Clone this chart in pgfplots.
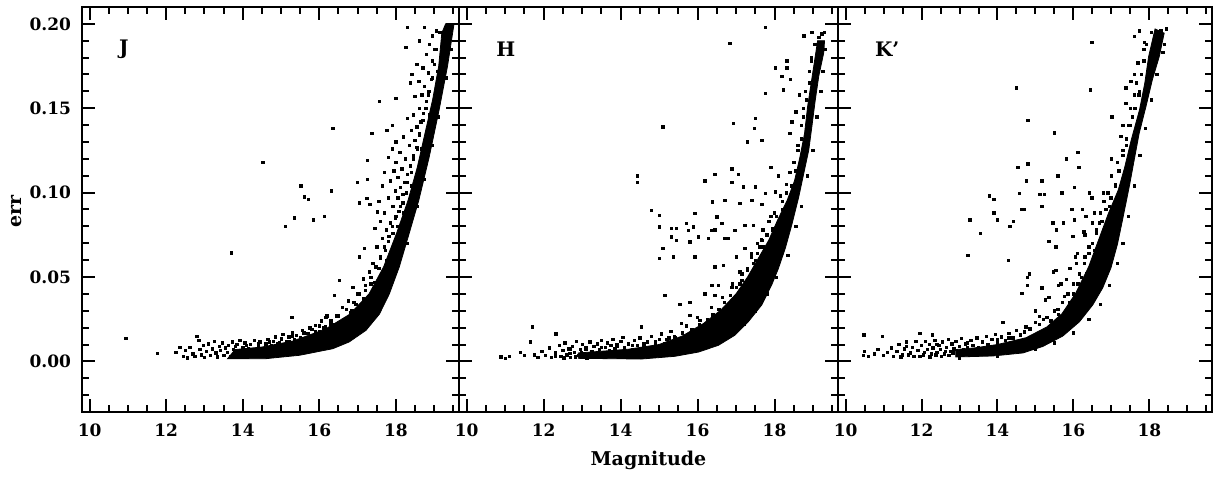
\documentclass[border=0pt]{standalone}
\usepackage{pgfplots}
\pgfplotsset{compat=1.18}
\usepackage{fontspec}
\setmainfont{DejaVu Serif}
\begin{document}
\begin{tikzpicture}
\useasboundingbox (0pt,0pt) rectangle (607pt,238.5pt);
\pgfplotsset{
 panel/.style={
  scale only axis, height=202.5pt,
  xmin=9.8, xmax=19.65, ymin=-0.03, ymax=0.21,
  xtick={10,12,14,16,18},
  minor xtick={10.5,11,11.5,12.5,13,13.5,14.5,15,15.5,16.5,17,17.5,18.5,19,19.5},
  ytick={0,0.05,0.1,0.15,0.2},
  minor ytick={-0.02,-0.01,0.01,0.02,0.03,0.04,0.06,0.07,0.08,0.09,0.11,0.12,0.13,0.14,0.16,0.17,0.18,0.19},
  tick align=inside, major tick length=6.5pt, minor tick length=3.5pt,
  every tick/.style={black, line width=1pt},
  axis line style={line width=1pt},
  /pgf/number format/assume math mode=true,
  tick label style={font=\bfseries\fontsize{8.5}{10}\selectfont},
  xticklabel style={yshift=-2.5pt},
  yticklabel style={xshift=-2pt, /pgf/number format/.cd, fixed, fixed zerofill, precision=2},
  label style={font=\bfseries\fontsize{9.5}{11}\selectfont},
  band/.style={fill=black, draw=black, line width=0.4pt, forget plot},
  pts/.style={only marks, mark=square*, mark size=0.6pt, black, mark options={line width=0.3pt}},
 },
}
% ---------------- J ----------------
\begin{axis}[panel, width=188.5pt, at={(41pt,32.5pt)}, anchor=south west,
  ylabel={err}, ylabel style={at={(rel axis cs:-0.174,0.494)}, anchor=center}]
\addplot[band] coordinates {
(13.6,0.0015) (14.6,0.0016) (15.48,0.0036) (16.35,0.0075) (16.78,0.0115) (17.22,0.0184)
(17.57,0.028) (17.83,0.040) (18.09,0.056) (18.35,0.076) (18.6,0.0955) (18.87,0.121)
(19.13,0.149) (19.35,0.175) (19.52,0.2)
(19.3,0.2) (19.2,0.1945) (19.12,0.175) (18.96,0.155) (18.76,0.135) (18.56,0.115)
(18.32,0.0955) (18.02,0.076) (17.68,0.056) (17.3,0.040) (16.8,0.028) (16.15,0.0190)
(15.3,0.0120) (14.5,0.0085) (13.8,0.0070)
} -- cycle;
\addplot[pts] coordinates {
(10.94,0.0138) (11.76,0.0049) (13.70,0.0643) (14.52,0.118) (15.11,0.080) (15.35,0.085)
(15.52,0.104) (15.61,0.0975) (15.72,0.096) (15.84,0.084) (16.13,0.086) (16.32,0.101) (16.35,0.138)
(12.25,0.0055) (12.35,0.0085) (12.45,0.0030) (12.5,0.0065) (12.55,0.0022) (12.62,0.0085)
(12.7,0.0045) (12.75,0.0030) (12.8,0.0150) (12.85,0.0125) (12.88,0.0070) (12.92,0.0040)
(12.97,0.0095) (13.0,0.0025) (13.05,0.0060) (13.1,0.0105) (13.15,0.0035) (13.2,0.0075)
(13.25,0.0120) (13.3,0.0050) (13.33,0.0028) (13.38,0.0090) (13.42,0.0065) (13.47,0.0110)
(13.5,0.0035) (13.55,0.0080) (13.6,0.0055) (13.63,0.0095) (13.68,0.0030) (13.72,0.0115)
(13.76,0.0070) (13.8,0.0045) (13.84,0.0100) (13.88,0.0060) (13.92,0.0125) (13.96,0.0035)
(14.0,0.0085) (14.05,0.0110) (14.1,0.0050) (14.15,0.0075) (14.2,0.0100) (14.25,0.0040)
(14.3,0.0125) (14.35,0.0065) (14.4,0.0090) (14.45,0.0115) (14.5,0.0050) (14.55,0.0075)
(14.6,0.0105) (14.65,0.0130) (14.7,0.0060) (14.75,0.0095) (14.8,0.0120) (14.85,0.0145)
(14.9,0.0085) (14.95,0.0110) (15.0,0.0135) (15.05,0.0160) (15.1,0.0095) (15.15,0.0120)
(15.2,0.0145) (15.25,0.0110) (15.3,0.0170) (15.35,0.0130) (15.4,0.0155) (15.5,0.0140)
(15.55,0.0185) (15.6,0.0125) (15.7,0.0165) (15.75,0.0200) (15.8,0.0150) (15.9,0.0215)
(16.0,0.0180) (16.05,0.0240) (16.15,0.0205) (16.2,0.0270) (16.3,0.0230) (16.5,0.0190)
(16.1,0.0200) (15.9,0.0180) (16.45,0.0270) (16.65,0.0250) (15.28,0.0260) (16.30,0.0220)
(16.17,0.0260) (16.82,0.0290) (16.60,0.0320) (16.95,0.0340) (16.75,0.0360) (16.39,0.0390)
(17.2,0.0420) (16.52,0.0480) (17.0,0.0400) (17.35,0.0460) (17.15,0.0490) (16.87,0.0440)
(17.30,0.0530) (17.55,0.0550) (17.40,0.0580) (17.60,0.0610) (17.04,0.0620) (17.72,0.0660)
(17.50,0.0680) (17.17,0.0670) (17.80,0.0710) (17.65,0.0730) (17.92,0.0760) (17.45,0.0790)
(17.75,0.0780) (18.05,0.0800) (17.60,0.0830) (17.85,0.0820) (17.98,0.0850) (17.70,0.0880)
(17.52,0.0886) (18.08,0.0890) (17.92,0.0920) (17.32,0.0930) (17.55,0.0950) (18.18,0.0940)
(17.80,0.0970) (18.05,0.0970) (17.04,0.0940) (17.24,0.0965) (17.0,0.1060) (18.28,0.1000)
(17.65,0.1040) (17.98,0.1010) (18.12,0.1030) (17.26,0.1080) (17.85,0.1070) (18.22,0.1060)
(18.05,0.1090) (17.70,0.1120) (18.30,0.1110) (17.95,0.1130) (18.15,0.1140) (18.38,0.1160)
(18.0,0.1180) (17.26,0.1190) (17.80,0.1210) (18.25,0.1200) (18.45,0.1220) (18.10,0.1240)
(17.90,0.1260) (18.56,0.1260) (18.35,0.1280) (18.0,0.1300) (18.50,0.1310) (18.20,0.1330)
(17.37,0.1350) (18.62,0.1340) (18.40,0.1370) (17.76,0.1370) (18.55,0.1390) (17.91,0.1400)
(18.65,0.1420) (18.30,0.1440) (18.45,0.1460) (18.72,0.1470) (18.62,0.1500) (17.57,0.1540)
(18.80,0.1540) (18.0,0.1560) (18.50,0.1570) (18.68,0.1580) (18.86,0.1600) (18.38,0.1650)
(18.75,0.1630) (18.60,0.1660) (18.92,0.1670) (18.42,0.1700) (18.85,0.1710) (18.70,0.1740)
(18.55,0.1760) (18.95,0.1780) (18.80,0.1820) (18.26,0.1860) (19.0,0.1850) (18.88,0.1880)
(18.62,0.1900) (19.05,0.1960) (18.95,0.1930) (18.74,0.1980) (18.30,0.1980)
(19.15,0.195) (19.05,0.185) (19.0,0.176) (18.95,0.168) (18.85,0.158) (18.78,0.150) (18.7,0.143)
(18.62,0.135) (18.55,0.127) (18.45,0.120) (18.4,0.112) (18.3,0.106) (18.18,0.099) (18.12,0.092)
(18.0,0.086) (17.9,0.080) (17.82,0.074) (17.7,0.068) (17.6,0.062) (17.48,0.056) (17.35,0.050)
(17.2,0.045) (17.05,0.040) (16.9,0.035) (16.7,0.031) (16.5,0.027) (16.3,0.024) (16.0,0.021)
(15.8,0.019) (15.6,0.017) (15.3,0.015) (15.0,0.013) (14.7,0.0115) (14.4,0.0105) (14.1,0.0095)
(13.8,0.0090) (19.08,0.172) (18.88,0.146) (18.66,0.126) (18.42,0.104) (18.2,0.088) (17.98,0.072)
(17.75,0.060) (17.45,0.047) (17.15,0.037) (16.85,0.030) (16.4,0.022) (15.9,0.017) (15.5,0.014)
(15.2,0.012) (14.9,0.0105)
(17.6,0.035) (17.9,0.048) (18.3,0.070) (18.55,0.092) (18.75,0.108) (18.95,0.128) (19.1,0.145)
(19.3,0.168) (19.45,0.185) (19.4,0.197) (17.3,0.025) (17.05,0.019) (16.8,0.014) (16.5,0.011)
};
\node[anchor=west, font=\bfseries\fontsize{10}{12}\selectfont] at (rel axis cs:0.08,0.895) {J};
\end{axis}
% ---------------- H ----------------
\begin{axis}[panel, width=189.5pt, at={(229.5pt,32.5pt)}, anchor=south west, yticklabels={},
  xlabel={Magnitude}, xlabel style={at={(rel axis cs:0.5,-0.1185)}, anchor=center}]
\addplot[band] coordinates {
(12.9,0.0018) (14.54,0.0014) (15.41,0.0030) (16.02,0.0055) (16.54,0.0095) (16.97,0.0155)
(17.32,0.0235) (17.67,0.0335) (17.93,0.0455) (18.10,0.055) (18.28,0.067) (18.45,0.081)
(18.63,0.0975) (18.76,0.1114) (18.89,0.1252) (18.97,0.139) (19.06,0.155) (19.15,0.169)
(19.28,0.183) (19.3,0.19)
(19.12,0.19) (18.98,0.169) (18.86,0.151) (18.78,0.135) (18.66,0.121) (18.52,0.107)
(18.33,0.0955) (18.08,0.0837) (17.85,0.0718) (17.6,0.0619) (17.3,0.050) (17.0,0.040)
(16.6,0.0303) (16.15,0.0224) (15.6,0.0150) (15.0,0.0100) (14.2,0.0072) (13.5,0.0060) (12.9,0.0050)
} -- cycle;
\addplot[pts] coordinates {
(10.89,0.0026) (11.0,0.0020) (11.1,0.0030) (11.4,0.0055) (11.5,0.0035) (11.65,0.0115)
(11.7,0.0204) (11.75,0.0040) (11.85,0.0025) (11.95,0.0060) (12.05,0.0035) (12.15,0.0080)
(12.2,0.0025) (12.32,0.0164) (12.3,0.0050) (12.4,0.0095) (12.45,0.0030) (12.5,0.0065)
(12.55,0.0110) (12.6,0.0040) (12.65,0.0075) (12.7,0.0025) (12.75,0.0090) (12.8,0.0055)
(12.85,0.0120) (12.9,0.0035) (12.95,0.0070) (13.0,0.0100) (13.05,0.0045) (13.1,0.0080)
(13.15,0.0030) (13.2,0.0115) (13.25,0.0060) (13.3,0.0090) (13.35,0.0040) (13.4,0.0105)
(13.45,0.0070) (13.5,0.0125) (13.55,0.0050) (13.6,0.0085) (13.65,0.0110) (13.7,0.0065)
(13.75,0.0095) (13.8,0.0130) (13.85,0.0075) (13.9,0.0100) (13.95,0.0055) (14.0,0.0120)
(14.06,0.0144) (14.1,0.0085) (14.2,0.0105) (14.3,0.0070) (14.35,0.0125) (14.43,0.0095)
(14.5,0.0140) (14.54,0.0204) (14.6,0.0080) (14.7,0.0115) (14.8,0.0150) (14.9,0.0095)
(15.0,0.0130) (15.06,0.0164) (15.15,0.0105) (15.25,0.0140) (15.41,0.0144) (15.5,0.0120)
(15.6,0.0165) (15.7,0.0135) (15.85,0.0180) (16.0,0.0190)
(12.3,0.0030) (12.52,0.0022) (12.68,0.0048) (12.82,0.0028) (12.98,0.0052) (13.12,0.0022)
(14.43,0.110) (14.43,0.106) (14.8,0.0896) (15.0,0.0866) (15.0,0.0797) (15.32,0.0787)
(15.45,0.0787) (15.71,0.0817) (15.76,0.0777) (15.89,0.0797) (15.93,0.0876) (15.32,0.0738)
(15.45,0.0718) (15.8,0.0708) (16.02,0.0738) (16.28,0.0728) (16.37,0.0777) (15.1,0.0669)
(15.0,0.061) (15.37,0.062) (15.93,0.062) (16.19,0.107) (16.45,0.111) (16.38,0.0946)
(16.71,0.0955) (16.89,0.114) (17.06,0.111) (16.89,0.106) (17.19,0.1035) (17.5,0.1035)
(17.76,0.0995) (18.02,0.1005) (17.1,0.0936) (17.41,0.0955) (17.67,0.093) (16.5,0.0857)
(16.63,0.0817) (16.45,0.078) (16.97,0.0777) (16.71,0.0728) (16.8,0.0728) (17.23,0.0807)
(17.45,0.0807) (17.67,0.0718) (17.55,0.070) (17.6,0.068) (17.23,0.0669) (17.0,0.062)
(16.45,0.056) (16.67,0.057) (16.54,0.045) (16.37,0.045) (16.19,0.040) (16.45,0.039)
(16.89,0.044) (15.15,0.039) (15.54,0.034) (15.8,0.035) (15.8,0.0273) (15.58,0.0224)
(16.06,0.0243) (15.1,0.139) (16.93,0.141) (17.5,0.144) (17.47,0.138) (17.67,0.131)
(17.3,0.130) (18.45,0.142) (18.4,0.135) (17.76,0.198) (16.84,0.1885) (18.76,0.193)
(18.97,0.195) (19.15,0.192) (19.23,0.194) (18.02,0.174) (18.32,0.178) (18.32,0.174)
(18.19,0.169) (18.41,0.167) (17.76,0.159) (18.23,0.161)
(17.9,0.115) (18.1,0.110) (18.3,0.105) (18.5,0.118) (18.6,0.128) (18.7,0.14) (18.75,0.15)
(18.8,0.16) (18.9,0.172) (18.95,0.18) (18.55,0.148) (18.65,0.158) (18.2,0.095) (18.0,0.088)
(17.85,0.083) (17.7,0.078) (17.95,0.078) (17.5,0.060) (17.3,0.055) (17.35,0.048) (17.1,0.046)
(17.0,0.038) (16.85,0.034) (16.65,0.028) (16.4,0.026) (16.2,0.021) (16.0,0.018) (17.75,0.067)
(17.4,0.062) (17.15,0.052) (18.35,0.092) (18.5,0.100) (18.1,0.079)
(19.05,0.188) (18.95,0.178) (18.9,0.165) (18.82,0.155) (18.75,0.145) (18.7,0.132) (18.6,0.125)
(18.55,0.113) (18.45,0.104) (18.3,0.100) (18.2,0.090) (18.05,0.086) (17.95,0.079) (17.8,0.075)
(17.7,0.068) (17.55,0.064) (17.45,0.058) (17.3,0.054) (17.15,0.048) (17.0,0.044) (16.85,0.039)
(16.7,0.035) (16.55,0.031) (16.4,0.028) (16.25,0.025) (16.05,0.022) (15.85,0.019) (15.6,0.017)
(15.4,0.015) (15.2,0.013) (14.9,0.0115) (14.6,0.0105) (14.3,0.0095) (13.9,0.0088) (13.5,0.0082)
(13.1,0.0075) (12.7,0.0070) (18.4,0.112) (18.15,0.098) (17.9,0.086) (17.65,0.072) (17.4,0.064)
(17.1,0.053) (16.9,0.046) (16.65,0.038) (16.35,0.032) (16.0,0.026) (15.7,0.021) (15.3,0.018)
(16.3,0.012) (16.8,0.016) (17.2,0.022) (17.5,0.030) (17.8,0.040) (18.05,0.050) (18.35,0.063)
(18.55,0.080) (18.7,0.092) (18.85,0.110) (19.0,0.125) (19.1,0.145) (19.2,0.160) (19.25,0.172)
(19.32,0.185) (19.3,0.195)
};
\node[anchor=west, font=\bfseries\fontsize{10}{12}\selectfont] at (rel axis cs:0.08,0.895) {H};
\end{axis}
% ---------------- K' ----------------
\begin{axis}[panel, width=187pt, at={(419pt,32.5pt)}, anchor=south west, yticklabels={}]
\addplot[band] coordinates {
(12.9,0.0026) (13.88,0.0032) (14.67,0.0050) (15.19,0.0088) (15.72,0.0150)
(16.16,0.0235) (16.51,0.0335) (16.77,0.0435) (16.99,0.0555) (17.16,0.0695) (17.29,0.0835)
(17.47,0.1035) (17.6,0.1193) (17.73,0.135) (17.91,0.151) (18.08,0.167) (18.26,0.1806) (18.39,0.1945)
(18.15,0.197) (17.98,0.1806) (17.88,0.165) (17.74,0.149) (17.52,0.131) (17.35,0.115)
(17.18,0.1015) (16.92,0.0876) (16.66,0.0718) (16.4,0.056) (16.05,0.040) (15.7,0.0283)
(15.3,0.0204) (14.75,0.0140) (14.0,0.0100) (13.4,0.0080) (12.9,0.0070)
} -- cycle;
\addplot[pts] coordinates {
(10.46,0.0036) (10.48,0.0158) (10.5,0.0060) (10.6,0.0030) (10.75,0.0045) (10.85,0.0070)
(10.97,0.0148) (11.0,0.0035) (11.1,0.0055) (11.2,0.0080) (11.25,0.0030) (11.35,0.0060)
(11.4,0.0100) (11.5,0.0040) (11.55,0.0075) (11.6,0.0115) (11.7,0.0050) (11.75,0.0085)
(11.8,0.0030) (11.85,0.0120) (11.95,0.0168) (11.9,0.0065) (12.0,0.0095) (12.05,0.0040)
(12.1,0.0120) (12.15,0.0070) (12.2,0.0100) (12.29,0.0158) (12.25,0.0045) (12.3,0.0080)
(12.35,0.0125) (12.4,0.0055) (12.45,0.0095) (12.5,0.0070) (12.55,0.0115) (12.6,0.0045)
(12.65,0.0085) (12.7,0.0130) (12.75,0.0060) (12.8,0.0100) (12.85,0.0075) (12.9,0.0120)
(12.95,0.0050) (13.0,0.0090) (13.05,0.0135) (13.1,0.0070) (13.15,0.0105) (13.2,0.0085)
(13.3,0.0125) (13.35,0.0095) (13.45,0.0140) (13.5,0.0080) (13.6,0.0115) (13.7,0.0150)
(13.75,0.0100) (13.85,0.0130) (13.95,0.0160) (14.0,0.0110) (14.1,0.0145) (14.14,0.0233)
(14.2,0.0125) (14.3,0.0165) (14.4,0.0140) (14.5,0.0185) (14.6,0.0155) (14.75,0.0204)
(14.7,0.0175) (14.85,0.0195) (15.0,0.0230) (15.1,0.0267) (15.2,0.0250)
(11.95,0.0030) (12.08,0.0055) (12.22,0.0028) (12.38,0.0040) (12.52,0.0030) (12.62,0.0060)
(12.72,0.0035) (12.82,0.0050) (11.45,0.0028) (11.65,0.0040)
(16.48,0.189) (16.45,0.161) (14.49,0.162) (14.8,0.143) (15.5,0.1355) (16.11,0.124)
(15.81,0.120) (16.14,0.115) (14.8,0.117) (14.54,0.115) (15.59,0.110) (14.76,0.107)
(15.17,0.107) (16.02,0.103) (15.69,0.100) (13.79,0.098) (13.9,0.096) (14.58,0.0995)
(15.11,0.099) (15.24,0.099) (15.17,0.092) (14.71,0.090) (14.63,0.090) (13.9,0.088)
(14.0,0.084) (14.42,0.083) (13.27,0.084) (13.55,0.076) (14.32,0.080) (15.46,0.082)
(15.74,0.082) (15.55,0.078) (15.96,0.090) (16.02,0.084) (16.48,0.097) (16.42,0.100)
(16.24,0.090) (16.33,0.086) (16.5,0.082) (16.68,0.082) (16.27,0.0768) (15.98,0.074)
(15.35,0.071) (15.54,0.068) (13.22,0.063) (14.29,0.060) (14.84,0.052) (14.78,0.050)
(14.79,0.045) (14.64,0.0405) (15.17,0.0437) (15.54,0.054) (15.47,0.053) (15.67,0.046)
(16.07,0.058) (16.05,0.062) (15.81,0.0485) (15.26,0.0366) (15.76,0.0386) (16.11,0.046)
(15.1,0.0267) (15.59,0.0307) (14.75,0.0204)
(17.6,0.1925) (17.73,0.196) (17.86,0.189) (18.3,0.196) (17.51,0.166) (17.73,0.160)
(17.38,0.162) (17.6,0.158) (17.38,0.153) (17.01,0.145) (17.25,0.1335) (17.7,0.177)
(17.5,0.150) (17.3,0.125) (17.15,0.118) (17.0,0.110) (16.9,0.100) (16.8,0.095) (16.95,0.092)
(16.7,0.088) (16.6,0.076) (16.4,0.068) (16.3,0.062) (16.55,0.066) (16.2,0.050) (16.35,0.052)
(16.0,0.040) (15.9,0.035) (16.1,0.033) (15.6,0.028) (15.4,0.024) (17.45,0.140) (17.55,0.145)
(17.65,0.165) (17.85,0.185) (17.4,0.128) (17.1,0.105) (16.85,0.080)
(18.05,0.195) (17.92,0.188) (17.85,0.178) (17.78,0.170) (17.72,0.158) (17.62,0.150) (17.5,0.140)
(17.4,0.132) (17.3,0.122) (17.2,0.113) (17.1,0.104) (16.98,0.097) (16.85,0.090) (16.75,0.083)
(16.6,0.078) (16.5,0.070) (16.4,0.064) (16.28,0.058) (16.15,0.052) (16.0,0.046) (15.85,0.040)
(15.7,0.035) (15.5,0.030) (15.3,0.026) (15.1,0.022) (14.85,0.019) (14.6,0.016) (14.3,0.014)
(14.0,0.013) (13.6,0.012) (13.2,0.011) (12.8,0.0105) (12.4,0.0100) (12.0,0.0095) (11.6,0.0090)
(17.6,0.170) (17.3,0.140) (17.0,0.120) (16.78,0.100) (16.55,0.088) (16.3,0.075) (16.1,0.064)
(15.9,0.055) (15.6,0.045) (15.35,0.038) (15.0,0.030)
(13.0,0.0020) (14.0,0.0030) (15.0,0.0070) (15.5,0.011) (16.0,0.017) (16.4,0.025) (16.7,0.034)
(16.95,0.045) (17.15,0.058) (17.3,0.070) (17.45,0.086) (17.6,0.104) (17.75,0.122) (17.9,0.138)
(18.05,0.155) (18.2,0.170) (18.35,0.183) (18.45,0.197) (18.4,0.188)
};
\node[anchor=west, font=\bfseries\fontsize{10}{12}\selectfont] at (rel axis cs:0.08,0.895) {K'};
\end{axis}
\end{tikzpicture}
\end{document}
